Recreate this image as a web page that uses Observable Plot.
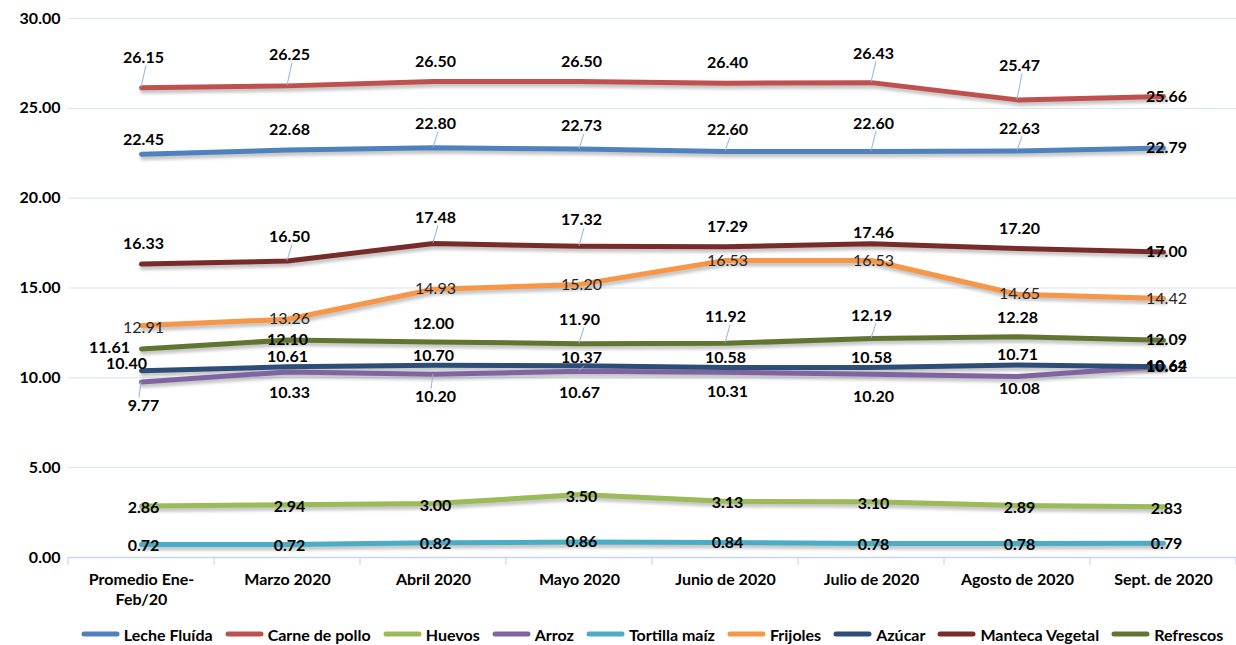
<!DOCTYPE html>
<html>
<head>
<meta charset="utf-8">
<script src="https://cdn.jsdelivr.net/npm/d3@7"></script>
<script src="https://cdn.jsdelivr.net/npm/@observablehq/plot@0.6"></script>
<style>
  body { margin: 0; background: #fff; font-family: Lato, "Open Sans", sans-serif; }
  #chart { width: 1236px; height: 615px; }
  #legend { width: 1168px; margin-left: 68px; height: 30px; display: flex; justify-content: center; align-items: center;
            font: bold 16px Lato, sans-serif; color: #000; padding-top: 4px; }
  .item { display: flex; align-items: center; margin: 0 6px; white-space: nowrap; }
  .item svg { margin-right: 4px; }
</style>
</head>
<body>
<div id="chart"></div>
<div id="legend"></div>
<script>
// ---------- data ----------
const categories = ["Promedio Ene-Feb/20", "Marzo 2020", "Abril 2020", "Mayo 2020", "Junio de 2020", "Julio de 2020", "Agosto de 2020", "Sept. de 2020"];
const seriesNames = ["Leche Fluída", "Carne de pollo", "Huevos", "Arroz", "Tortilla maíz", "Frijoles", "Azúcar", "Manteca Vegetal", "Refrescos"];
const lecheFluida    = [22.45, 22.68, 22.80, 22.73, 22.60, 22.60, 22.63, 22.79];
const carnePollo     = [26.15, 26.25, 26.50, 26.50, 26.40, 26.43, 25.47, 25.66];
const huevos         = [2.86, 2.94, 3.00, 3.50, 3.13, 3.10, 2.89, 2.83];
const arroz          = [9.77, 10.33, 10.20, 10.37, 10.31, 10.20, 10.08, 10.64];
const tortillaMaiz   = [0.72, 0.72, 0.82, 0.86, 0.84, 0.78, 0.78, 0.79];
const frijoles       = [12.91, 13.26, 14.93, 15.20, 16.53, 16.53, 14.65, 14.42];
const azucar         = [10.40, 10.61, 10.70, 10.67, 10.58, 10.58, 10.71, 10.62];
const mantecaVegetal = [16.33, 16.50, 17.48, 17.32, 17.29, 17.46, 17.20, 17.00];
const refrescos      = [11.61, 12.10, 12.00, 11.90, 11.92, 12.19, 12.28, 12.09];
const yTicks = [0, 5, 10, 15, 20, 25, 30];

const seriesValues = [lecheFluida, carnePollo, huevos, arroz, tortillaMaiz, frijoles, azucar, mantecaVegetal, refrescos];
const seriesColors = ["#4F81BD", "#C0504D", "#9BBB59", "#8064A2", "#4BACC6", "#F79646", "#2C4D75", "#772C2A", "#5F7530"];

// ---------- label placement (style) ----------
const labelDy = {
  "Leche Fluída":    [-14, -20, -24, -23, -22, -28, -22, 0],
  "Carne de pollo":  [-30, -31, -20, -20, -20, -29, -34, 0],
  "Huevos":          [2, 2, 2, 2, 2, 2, 2, 2],
  "Arroz":           [24, 21, 23, -13, 20, 23, 12, 0],
  "Tortilla maíz":   [1, 1, 1, 0, 0, 1, 1, 1],
  "Frijoles":        [2, 0, 0, 0, 0, 0, 0, 0],
  "Azúcar":          [-7, -10, -9, 27, -10, -10, -10, 0],
  "Manteca Vegetal": [-20, -24, -26, -26, -20, -11, -20, 0],
  "Refrescos":       [-1, 0, -18, -24, -26, -23, -19, 0]
};
const labelDx = { "Azúcar": [-15, 0, 0, 0, 0, 0, 0, 3], "Refrescos": [-32, 0, 0, 0, 0, 0, 0, 3] };
const leaders = {
  "Leche Fluída": [2, 3, 4, 5, 6], "Carne de pollo": [0, 1, 5, 6], "Manteca Vegetal": [1, 2, 3],
  "Refrescos": [3, 4, 5], "Arroz": [0, 2, 3]
};

// ---------- build rows ----------
const rows = [];
seriesNames.forEach((s, si) => {
  seriesValues[si].forEach((v, i) => rows.push({ series: s, cat: categories[i], v, i }));
});
const labels = rows.map(r => ({
  ...r,
  dx: (labelDx[r.series] ? labelDx[r.series][r.i] : (r.i === 7 ? 3 : 2)),
  dy: labelDy[r.series][r.i],
  weight: r.series === "Frijoles" ? "normal" : "bold",
  fill: r.series === "Frijoles" ? "#262626" : "#000"
}));
const groups = d3.groups(labels, d => `${d.dx}|${d.dy}|${d.weight}`);
const labelMarks = groups.map(([k, arr]) => Plot.text(arr, {
  x: "cat", y: "v", text: d => d.v.toFixed(2), dx: arr[0].dx, dy: arr[0].dy,
  fontWeight: arr[0].weight, fill: arr[0].fill, fontSize: 16
}));

const plot = Plot.plot({
  width: 1236, height: 615,
  marginLeft: 68, marginRight: 0, marginTop: 18, marginBottom: 58,
  style: { fontFamily: "Lato, sans-serif", fontSize: "16px", color: "#000", background: "#fff", overflow: "visible" },
  x: { type: "point", domain: categories, padding: 0.5, label: null },
  y: { domain: [0, 30], label: null },
  color: { domain: seriesNames, range: seriesColors },
  marks: [
    Plot.gridY(yTicks, { stroke: "#D9E3F2", strokeOpacity: 1, strokeWidth: 1 }),
    Plot.ruleY([0], { stroke: "#C6D5EC", strokeWidth: 1.5 }),
    Plot.axisY(yTicks, { tickFormat: d3.format(".2f"), tickSize: 0, tickPadding: 8, fontWeight: "bold", fontSize: 16, label: null }),
    Plot.axisX({ tickSize: 0, tickPadding: 13, fontWeight: "bold", fontSize: 16, lineHeight: 1.25, label: null,
                 tickFormat: d => d === "Promedio Ene-Feb/20" ? "Promedio Ene-\nFeb/20" : d }),
    Plot.line(rows, { x: "cat", y: "v", z: "series", stroke: "#000", strokeOpacity: 0.22, strokeWidth: 6, dx: 1.5, dy: 3, strokeLinecap: "round" }),
    Plot.line(rows, { x: "cat", y: "v", stroke: "series", strokeWidth: 5, strokeLinecap: "round", strokeLinejoin: "round" }),
    ...labelMarks
  ]
});
document.getElementById("chart").appendChild(plot);

// shadow blur, category separators and leader lines via the plot's scales
const svg = d3.select(plot);
const defs = svg.insert("defs", ":first-child");
defs.append("filter").attr("id", "blur").attr("x", "-5%").attr("y", "-50%").attr("width", "110%").attr("height", "200%")
  .append("feGaussianBlur").attr("stdDeviation", 1.6);
svg.select('g[aria-label="line"]').attr("filter", "url(#blur)");

const xs = plot.scale("x"), ys = plot.scale("y");
const p0 = xs.apply(categories[0]), p1 = xs.apply(categories[1]);
const step = p1 - p0;
const y0 = ys.apply(0);
const sep = svg.append("g").attr("stroke", "#C6D5EC").attr("stroke-width", 1.2);
for (let i = 0; i <= categories.length; i++) {
  const x = p0 - step / 2 + i * step;
  sep.append("line").attr("x1", x).attr("x2", x).attr("y1", y0).attr("y2", y0 + 8);
}
const lg = svg.append("g").attr("stroke", "#8DB4E2").attr("stroke-width", 1);
Object.entries(leaders).forEach(([s, idxs]) => {
  const si = seriesNames.indexOf(s);
  idxs.forEach(i => {
    const px = xs.apply(categories[i]), py = ys.apply(seriesValues[si][i]);
    const dy = labelDy[s][i];
    const end = dy < 0 ? py + dy + 8 : py + dy - 8;
    lg.append("line").attr("x1", px).attr("y1", py).attr("x2", px + (dy < 0 ? 5 : -2)).attr("y2", end);
  });
});

// legend
const legend = d3.select("#legend");
seriesNames.forEach((s, i) => {
  const it = legend.append("div").attr("class", "item");
  const sw = it.append("svg").attr("width", 39).attr("height", 10);
  sw.append("line").attr("x1", 3).attr("x2", 36).attr("y1", 5).attr("y2", 5)
    .attr("stroke", seriesColors[i]).attr("stroke-width", 5).attr("stroke-linecap", "round");
  it.append("span").text(s);
});
</script>
</body>
</html>
